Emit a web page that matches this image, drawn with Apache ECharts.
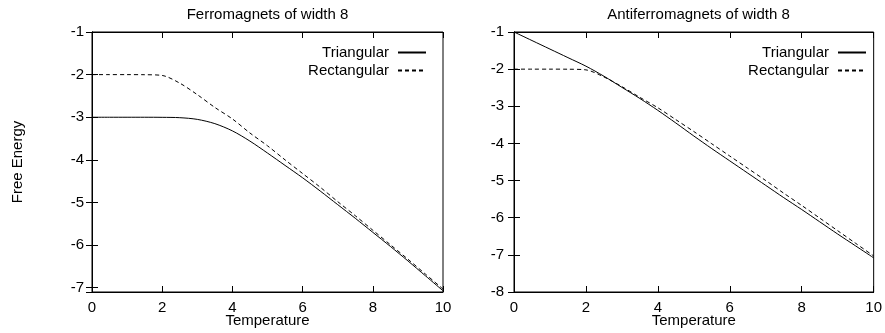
<!DOCTYPE html>
<html>
<head>
<meta charset="utf-8">
<script src="https://cdn.jsdelivr.net/npm/echarts@6/dist/echarts.min.js"></script>
<style>
html,body{margin:0;padding:0;background:#fff;}
#chart{width:885px;height:333px;}
</style>
</head>
<body>
<div id="chart"></div>
<script>
const temperatures = [0, 0.5, 1, 1.5, 2, 2.5, 3, 3.5, 4, 4.5, 5, 5.5, 6, 6.5, 7, 7.5, 8, 8.5, 9, 9.5, 10];
const ferroTriangular = [-3, -3, -3, -3, -3.002, -3.01, -3.05, -3.15, -3.32, -3.56, -3.84, -4.13, -4.42, -4.73, -5.05, -5.37, -5.70, -6.03, -6.37, -6.72, -7.07];
const ferroRectangular = [-2, -2, -2, -2.002, -2.02, -2.2, -2.47, -2.77, -3.04, -3.37, -3.67, -4.0, -4.32, -4.64, -4.98, -5.31, -5.65, -5.99, -6.33, -6.68, -7.03];
const antiTriangular = [-1, -1.23, -1.46, -1.69, -1.92, -2.19, -2.49, -2.79, -3.11, -3.45, -3.80, -4.14, -4.47, -4.80, -5.13, -5.46, -5.78, -6.11, -6.44, -6.76, -7.08];
const antiRectangular = [-2, -2, -2, -2.002, -2.02, -2.21, -2.47, -2.76, -3.04, -3.36, -3.68, -4.01, -4.34, -4.67, -5.0, -5.34, -5.67, -6.01, -6.35, -6.69, -7.03];
const xTickLabels = [0, 2, 4, 6, 8, 10];
const ferroYRange = [-7.1, -1];
const antiYRange = [-8, -1];
const seriesNames = ['Triangular', 'Rectangular'];
const panelTitles = ['Ferromagnets of width 8', 'Antiferromagnets of width 8'];
const xAxisName = 'Temperature';
const yAxisName = 'Free Energy';

const FONT = "'Liberation Sans', Arial, Helvetica, sans-serif";
const FS = 15;
// ECharts v6 here does not paint axis lines/ticks on an all-negative value range,
// so values are plotted shifted by a constant and the labels show the true values.
const SHIFT = 9;
const toAxis = v => v + SHIFT;
const fromAxis = v => String(Math.round((v - SHIFT) * 10) / 10);
const pairs = (xs, ys) => xs.map((x, i) => [x, toAxis(ys[i])]);

const chart = echarts.init(document.getElementById('chart'), null, {renderer: 'canvas'});

const axisLineStyle = () => ({show: true, lineStyle: {color: '#000', width: 1}});
const tickStyle = () => ({show: true, inside: true, length: 6, lineStyle: {color: '#000', width: 1}});
const hiddenSplit = () => ({show: true, lineStyle: {color: '#fff', opacity: 0}});
const labelStyle = (margin, fmt) => {
  const l = {show: true, color: '#000', fontFamily: FONT, fontSize: FS, margin};
  if (fmt) l.formatter = fmt;
  return l;
};

function xAxes(gridIndex) {
  return [
    {
      type: 'value', gridIndex, position: 'bottom', min: xTickLabels[0], max: xTickLabels[xTickLabels.length - 1], interval: 2,
      axisLine: axisLineStyle(), axisTick: tickStyle(),
      axisLabel: labelStyle(8),
      splitLine: hiddenSplit(),
      name: xAxisName, nameLocation: 'middle', nameGap: 21, nameMoveOverlap: false,
      nameTextStyle: {color: '#000', fontFamily: FONT, fontSize: FS}
    },
    {
      type: 'value', gridIndex, position: 'top', min: xTickLabels[0], max: xTickLabels[xTickLabels.length - 1], interval: 2,
      axisLine: axisLineStyle(), axisTick: tickStyle(), axisLabel: {show: false},
      splitLine: hiddenSplit()
    }
  ];
}

function yAxes(gridIndex, range, margin, withName) {
  const common = {
    type: 'value', gridIndex, min: toAxis(range[0]), max: toAxis(range[1]),
    splitNumber: 6, axisLine: axisLineStyle(), axisTick: tickStyle(),
    splitLine: hiddenSplit()
  };
  const left = Object.assign({}, common, {
    position: 'left',
    axisLabel: Object.assign(labelStyle(margin, fromAxis), {showMinLabel: Number.isInteger(range[0])})
  });
  if (withName) {
    Object.assign(left, {
      name: yAxisName, nameLocation: 'middle', nameGap: 67, nameRotate: 90, nameMoveOverlap: false,
      nameTextStyle: {color: '#000', fontFamily: FONT, fontSize: FS}
    });
  }
  const right = Object.assign({}, common, {position: 'right', axisLabel: {show: false}});
  return [left, right];
}

function legendAt(right) {
  return {
    orient: 'vertical', right, top: 45, align: 'right', padding: 0,
    itemWidth: 28, itemHeight: 10, itemGap: 3,
    data: seriesNames.slice(),
    itemStyle: {opacity: 0},
    textStyle: {color: '#000', fontFamily: FONT, fontSize: FS, padding: [0, 4, 0, 0]},
    selectedMode: false
  };
}

function lineSeries(name, xi, yi, values, dashed) {
  return {
    name, type: 'line', xAxisIndex: xi, yAxisIndex: yi,
    data: pairs(temperatures, values),
    showSymbol: false, symbol: 'circle', smooth: 0.3, color: '#000',
    lineStyle: {color: '#000', width: 1, type: dashed ? [4, 3] : 'solid'}
  };
}

const option = {
  animation: false,
  backgroundColor: '#fff',
  grid: [
    {left: 92, right: 442, top: 32, bottom: 40, show: true, borderColor: '#000', borderWidth: 1, backgroundColor: 'transparent'},
    {left: 514, right: 2, top: 32, bottom: 40, show: true, borderColor: '#000', borderWidth: 1, backgroundColor: 'transparent'}
  ],
  graphic: [
    {type: 'text', x: 267.5, y: 15, style: {text: panelTitles[0], fill: '#000', font: FS + 'px ' + FONT, textAlign: 'center', textVerticalAlign: 'middle'}},
    {type: 'text', x: 698.5, y: 15, style: {text: panelTitles[1], fill: '#000', font: FS + 'px ' + FONT, textAlign: 'center', textVerticalAlign: 'middle'}}
  ],
  legend: [legendAt(458), legendAt(18)],
  xAxis: [...xAxes(0), ...xAxes(1)],
  yAxis: [...yAxes(0, ferroYRange, 8, true), ...yAxes(1, antiYRange, 10, false)],
  series: [
    lineSeries(seriesNames[0], 0, 0, ferroTriangular, false),
    lineSeries(seriesNames[1], 0, 0, ferroRectangular, true),
    lineSeries(seriesNames[0], 2, 2, antiTriangular, false),
    lineSeries(seriesNames[1], 2, 2, antiRectangular, true)
  ]
};
chart.setOption(option);
</script>
</body>
</html>
